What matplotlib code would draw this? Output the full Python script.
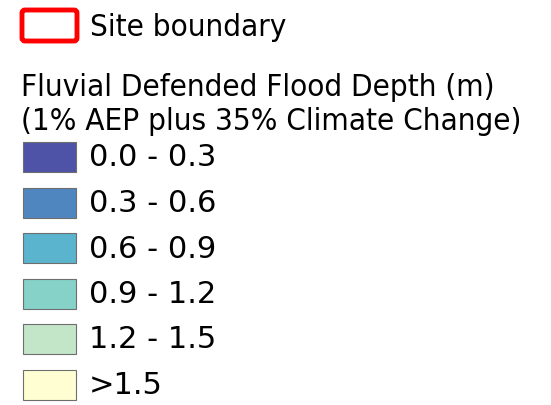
import matplotlib.pyplot as plt
from matplotlib.patches import Rectangle, FancyBboxPatch

# legend content
boundary_label = "Site boundary"
title_lines = ["Fluvial Defended Flood Depth (m)", "(1% AEP plus 35% Climate Change)"]
class_labels = ["0.0 - 0.3", "0.3 - 0.6", "0.6 - 0.9", "0.9 - 1.2", "1.2 - 1.5", ">1.5"]
class_colors = ["#4f53a8", "#4f86c0", "#5ab4cd", "#86d1c8", "#c3e6c8", "#fefed2"]

fig = plt.figure(figsize=(5.51, 4.06), dpi=100)
ax = fig.add_axes([0, 0, 1, 1])
ax.set_xlim(0, 551)
ax.set_ylim(406, 0)
ax.axis('off')

txt = dict(fontsize=22.5, va='center', ha='left', color='black',
           family='DejaVu Sans', fontstretch='condensed')
num = dict(fontsize=22, va='center', ha='left', color='black', family='DejaVu Sans')

# site boundary box
ax.add_patch(FancyBboxPatch((22, 11), 55, 31, boxstyle="round,pad=0,rounding_size=3",
                            facecolor='white', edgecolor='#ff0000', linewidth=3.5))
ax.text(90, 27, boundary_label, **txt)

# heading
for i, line in enumerate(title_lines):
    ax.text(21, 87 + i * 34, line, **txt)

# classes
for i, (lab, col) in enumerate(zip(class_labels, class_colors)):
    y0 = 143 + i * 45.5
    ax.add_patch(Rectangle((23, y0), 53, 30, facecolor=col, edgecolor='#6e6e6e', linewidth=0.8))
    ax.text(89, y0 + 15, lab, **num)

fig.savefig("out.png", dpi=100)
